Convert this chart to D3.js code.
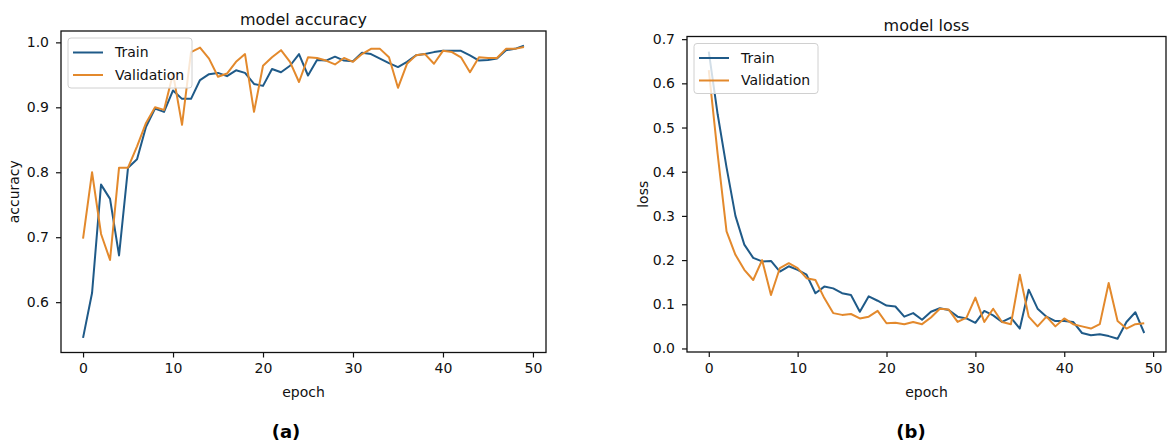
<!DOCTYPE html>
<html><head><meta charset="utf-8">
<script src="https://cdn.jsdelivr.net/npm/d3@7"></script>
<style>body{margin:0;background:#fff}text{font-family:"DejaVu Sans",sans-serif}</style></head>
<body><svg id="c" width="1176" height="445"></svg>
<script>
const accTrain = [0.545,0.614,0.781,0.759,0.672,0.807,0.820,0.870,0.898,0.893,
  0.926,0.913,0.913,0.942,0.951,0.953,0.948,0.957,0.953,0.936,
  0.933,0.959,0.954,0.964,0.982,0.949,0.973,0.972,0.978,0.972,
  0.971,0.984,0.982,0.975,0.968,0.962,0.970,0.980,0.982,0.985,
  0.987,0.987,0.987,0.980,0.972,0.973,0.975,0.988,0.990,0.995];
const accVal = [0.698,0.800,0.705,0.665,0.807,0.807,0.840,0.876,0.900,0.896,
  0.952,0.873,0.985,0.992,0.975,0.947,0.952,0.970,0.982,0.893,
  0.964,0.977,0.988,0.970,0.939,0.977,0.976,0.972,0.966,0.976,
  0.970,0.982,0.990,0.990,0.977,0.930,0.967,0.980,0.982,0.967,
  0.987,0.985,0.977,0.954,0.977,0.976,0.976,0.990,0.990,0.993];
const lossTrain = [0.672,0.530,0.410,0.300,0.235,0.205,0.197,0.198,0.174,0.186,
  0.178,0.167,0.125,0.140,0.136,0.125,0.121,0.083,0.118,0.108,
  0.097,0.095,0.072,0.080,0.065,0.083,0.091,0.087,0.072,0.068,
  0.058,0.085,0.075,0.060,0.070,0.045,0.133,0.090,0.072,0.062,
  0.062,0.060,0.035,0.030,0.032,0.028,0.022,0.060,0.082,0.035];
const lossVal = [0.630,0.440,0.265,0.212,0.178,0.155,0.200,0.121,0.182,0.193,
  0.182,0.159,0.155,0.114,0.080,0.076,0.078,0.068,0.072,0.085,
  0.057,0.058,0.055,0.060,0.055,0.070,0.090,0.088,0.060,0.070,
  0.115,0.060,0.090,0.060,0.055,0.167,0.072,0.050,0.072,0.050,
  0.068,0.055,0.050,0.045,0.055,0.148,0.062,0.045,0.055,0.057];
const epochTicks = [0,10,20,30,40,50];
const accTicks = [0.6,0.7,0.8,0.9,1.0];
const lossTicks = [0.0,0.1,0.2,0.3,0.4,0.5,0.6,0.7];
const seriesNames = ["Train","Validation"];
const colors = ["#1f5a88","#e3892c"];

const svg = d3.select("#c");
svg.append("rect").attr("width",1176).attr("height",445).attr("fill","#fff");

function panel(o){
  const x = d3.scaleLinear().domain([-2.45,51.45]).range([o.x0,o.x1]);
  const y = d3.scaleLinear().domain(o.ydom).range([o.y1,o.y0]);
  const g = svg.append("g");
  const line = d3.line().x((d,i)=>x(i)).y(d=>y(d));
  o.series.forEach((s,k)=>{
    g.append("path").attr("d",line(s)).attr("fill","none")
     .attr("stroke",colors[k]).attr("stroke-width",2).attr("stroke-linejoin","round");
  });
  const ax = g.append("g").attr("transform",`translate(0,${o.y1})`)
    .call(d3.axisBottom(x).tickValues(epochTicks).tickSize(5).tickPadding(6).tickFormat(d3.format("d")));
  const ay = g.append("g").attr("transform",`translate(${o.x0},0)`)
    .call(d3.axisLeft(y).tickValues(o.yticks).tickSize(5).tickPadding(7).tickFormat(d3.format(".1f")));
  [ax,ay].forEach(a=>{
    a.select(".domain").remove();
    a.selectAll("line").attr("stroke","#111").attr("stroke-width",1.2);
    a.selectAll("text").attr("font-size",14).attr("fill","#111").attr("font-family","DejaVu Sans");
  });
  g.append("rect").attr("x",o.x0).attr("y",o.y0).attr("width",o.x1-o.x0).attr("height",o.y1-o.y0)
    .attr("fill","none").attr("stroke","#111").attr("stroke-width",1.3);
  const cx = (o.x0+o.x1)/2;
  g.append("text").attr("x",cx).attr("y",o.y0-6).attr("text-anchor","middle")
    .attr("font-size",16).attr("fill","#111").text(o.title);
  g.append("text").attr("x",cx).attr("y",397).attr("text-anchor","middle")
    .attr("font-size",14).attr("fill","#111").text("epoch");
  g.append("text").attr("transform",`translate(${o.ylx},${(o.y0+o.y1)/2}) rotate(-90)`)
    .attr("text-anchor","middle").attr("dy","0.35em").attr("font-size",14).attr("fill","#111").text(o.ylabel);
  g.append("text").attr("x",o.capx).attr("y",438).attr("text-anchor","middle")
    .attr("font-family","Liberation Serif").attr("font-weight","bold").attr("font-size",18)
    .attr("fill","#000").text(o.caption);
  const lx = o.x0+7, ly = o.y0+7;
  const lg = g.append("g");
  lg.append("rect").attr("x",lx).attr("y",ly).attr("width",124).attr("height",50).attr("rx",3)
    .attr("fill","#fff").attr("fill-opacity",0.8).attr("stroke","#d0d0d0");
  seriesNames.forEach((n,k)=>{
    const yy = ly+14.5+k*22.5;
    lg.append("line").attr("x1",lx+5).attr("x2",lx+35).attr("y1",yy).attr("y2",yy)
      .attr("stroke",colors[k]).attr("stroke-width",2);
    lg.append("text").attr("x",lx+47).attr("y",yy).attr("dy","0.35em")
      .attr("font-size",14).attr("fill","#111").text(n);
  });
}

panel({x0:61,x1:546,y0:31,y1:352.5,ydom:[0.5225,1.0175],yticks:accTicks,
  series:[accTrain,accVal],title:"model accuracy",ylabel:"accuracy",ylx:14,capx:286,caption:"(a)"});
panel({x0:687,x1:1166,y0:36.5,y1:352,ydom:[-0.008,0.706],yticks:lossTicks,
  series:[lossTrain,lossVal],title:"model loss",ylabel:"loss",ylx:643,capx:911,caption:"(b)"});
</script></body></html>
